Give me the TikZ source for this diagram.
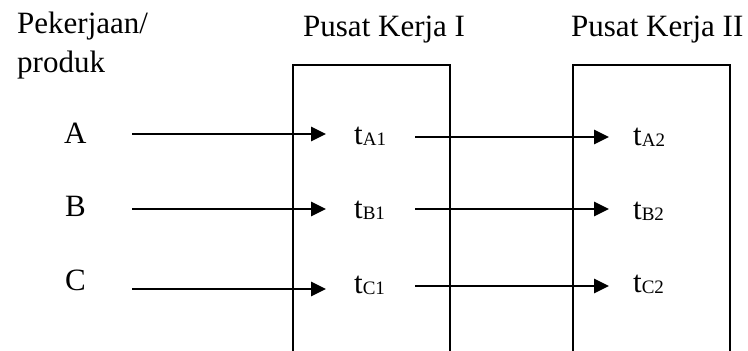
\documentclass[tikz,border=0pt]{standalone}
\usepackage{fontspec}
\setmainfont{Liberation Serif}
\usetikzlibrary{arrows.meta}

\newcommand{\tsub}[2]{#1\raisebox{-1.5pt}{\fontsize{19}{19}\selectfont #2}}

\begin{document}
\begin{tikzpicture}[x=1pt,y=-1pt,
  lbl/.style={anchor=base west,inner sep=0pt,font=\fontsize{31}{37}\selectfont},
  flow/.style={line width=2.8pt,-{Triangle[length=15pt,width=14pt]}},
  station/.style={line width=1.3pt}]
  \useasboundingbox (0,0) rectangle (748,351);

  % column headings
  \node[lbl] (hjob) at (17,33) {Pekerjaan/};
  \node[lbl] (hjob2) at (17,72) {produk};
  \node[lbl] (hwc1) at (303,36) {Pusat Kerja I};
  \node[lbl] (hwc2) at (571,36) {Pusat Kerja II};

  % work centres (open at the bottom)
  \coordinate (w1tl) at (293,65);
  \coordinate (w1tr) at (450,65);
  \coordinate (w2tl) at (573,65);
  \coordinate (w2tr) at (730,65);
  \draw[station] (w1tl |- 0,353) -- (w1tl) -- (w1tr) -- (w1tr |- 0,353);
  \draw[station] (w2tl |- 0,353) -- (w2tl) -- (w2tr) -- (w2tr |- 0,353);

  % jobs
  \node[lbl] (jA) at (64,143) {A};
  \node[lbl] (jB) at (65,216) {B};
  \node[lbl] (jC) at (65,290) {C};

  % processing times
  \node[lbl] (tA1) at (354,144) {\tsub{t}{A1}};
  \node[lbl] (tB1) at (354,218) {\tsub{t}{B1}};
  \node[lbl] (tC1) at (354,293) {\tsub{t}{C1}};
  \node[lbl] (tA2) at (633,145) {\tsub{t}{A2}};
  \node[lbl] (tB2) at (633,219) {\tsub{t}{B2}};
  \node[lbl] (tC2) at (633,292) {\tsub{t}{C2}};

  % arrow end points
  \coordinate (a0) at (132,134); \coordinate (a1) at (326,134);
  \coordinate (b0) at (132,209); \coordinate (b1) at (326,209);
  \coordinate (c0) at (132,289); \coordinate (c1) at (326,289);
  \coordinate (a2) at (415,137); \coordinate (a3) at (609,137);
  \coordinate (b2) at (415,209); \coordinate (b3) at (609,209);
  \coordinate (c2) at (415,286); \coordinate (c3) at (609,286);

  \draw[flow] (a0) -- (a1);
  \draw[flow] (b0) -- (b1);
  \draw[flow] (c0) -- (c1);
  \draw[flow] (a2) -- (a3);
  \draw[flow] (b2) -- (b3);
  \draw[flow] (c2) -- (c3);
\end{tikzpicture}
\end{document}
